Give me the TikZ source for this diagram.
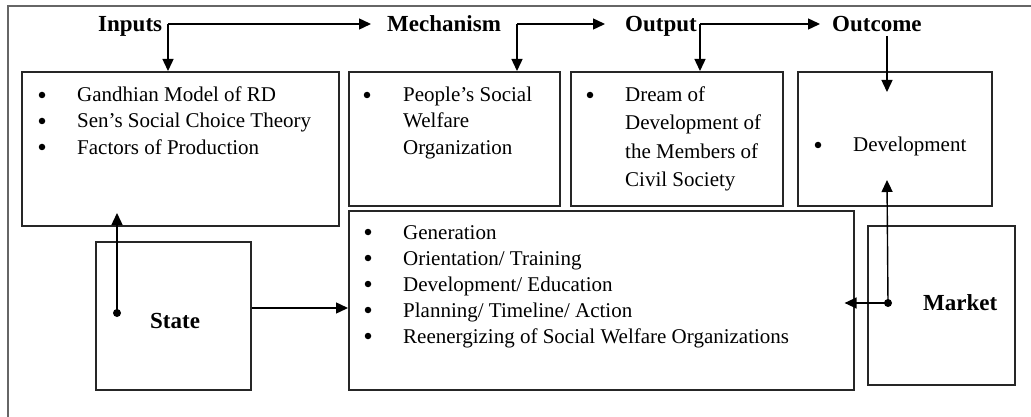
\documentclass[tikz,border=0pt]{standalone}
\usepackage{fontspec}
\setmainfont{Liberation Serif}
\usetikzlibrary{arrows.meta}
\begin{document}
\begin{tikzpicture}[x=1pt,y=-1pt,
  box/.style={draw=black!85, line width=1.6pt, rectangle, inner sep=0pt, anchor=north west},
  arr/.style={line width=1.4pt, -{Triangle[length=12pt,width=11pt]}},
  frame/.style={line width=1.6pt, draw=black!60},
  lbl/.style={font=\fontsize{23}{27}\selectfont\bfseries, inner sep=0pt, anchor=base west},
  txt/.style={font=\fontsize{21}{26}\selectfont, inner sep=0pt, anchor=base west},
  bul/.style={circle, fill, inner sep=0pt, minimum size=6.5pt},
  dot/.style={circle, fill, inner sep=0pt, minimum size=8pt},
]
\useasboundingbox (0,0) rectangle (1031,417);
\fill[white] (0,0) rectangle (1031,417);
% outer frame
\draw[frame] (8,417) -- (8,6) -- (1031,6);

% headers
\node[lbl] (inputs) at (98,32) {Inputs};
\node[lbl] (mech) at (387,32) {Mechanism};
\node[lbl] (output) at (625,32) {Output};
\node[lbl] (outcome) at (832,32) {Outcome};

% boxes
\node[box, minimum width=317pt, minimum height=154pt] (b1) at (21,71) {};
\node[box, minimum width=211pt, minimum height=134pt] (b2) at (348,71) {};
\node[box, minimum width=212pt, minimum height=134pt] (b3) at (570,71) {};
\node[box, minimum width=194pt, minimum height=134pt] (b4) at (797,71) {};
\node[box, minimum width=505pt, minimum height=179pt] (b5) at (348,210) {};
\node[box, minimum width=155pt, minimum height=148pt] (state) at (95,241) {};
\node[box, minimum width=147pt, minimum height=159pt] (market) at (867,225) {};

% box 1 text
\node[bul] (b1a) at (42,95) {};
\node[txt] (b1at) at (77,102) {Gandhian Model of RD};
\node[bul] (b1b) at (42,121) {};
\node[txt] (b1bt) at (77,128) {Sen’s Social Choice Theory};
\node[bul] (b1c) at (42,147) {};
\node[txt] (b1ct) at (77,154) {Factors of Production};

% box 2 text
\node[bul] (b2a) at (367,95) {};
\node[txt] (b2t1) at (403,102) {People’s Social};
\node[txt] (b2t2) at (403,128) {Welfare};
\node[txt] (b2t3) at (403,154) {Organization};

% box 3 text
\node[bul] (b3a) at (590,95) {};
\node[txt] (b3t1) at (625,102) {Dream of};
\node[txt] (b3t2) at (625,130) {Development of};
\node[txt] (b3t3) at (625,158) {the Members of};
\node[txt] (b3t4) at (625,186) {Civil Society};

% box 4 text
\node[bul] (b4a) at (818,145) {};
\node[txt] (b4t) at (853,152) {Development};

% box 5 text
\node[bul] (b5a) at (368,232) {};
\node[txt] (b5at) at (403,239) {Generation};
\node[bul] (b5b) at (368,258) {};
\node[txt] (b5bt) at (403,265) {Orientation/ Training};
\node[bul] (b5c) at (368,284) {};
\node[txt] (b5ct) at (403,291) {Development/ Education};
\node[bul] (b5d) at (368,310) {};
\node[txt] (b5dt) at (403,317) {Planning/ Timeline/ Action};
\node[bul] (b5e) at (368,336) {};
\node[txt] (b5et) at (403,343) {Reenergizing of Social Welfare Organizations};

% State / Market labels
\node[lbl] (statel) at (150,328) {State};
\node[lbl] (marketl) at (923,310) {Market};

% junction coordinates
\coordinate (j1) at (168,24);
\coordinate (j2) at (517,24);
\coordinate (j3) at (700,24);
\coordinate (o1) at (887,36);
\coordinate (o2) at (887,92);
\coordinate (m2) at (887,180);
\coordinate (s2) at (117,213);
\node[dot] (sdot) at (117,313) {};
\node[dot] (mdot) at (888,303) {};

% connectors
\draw[arr] (j1) -- ([xshift=-16pt]mech.west |- j1);
\draw[arr] (j1) -- (j1 |- b1.north);
\draw[arr] (j2) -- ([xshift=-20pt]output.west |- j2);
\draw[arr] (j2) -- (j2 |- b2.north);
\draw[arr] (j3) -- ([xshift=-12pt]outcome.west |- j3);
\draw[arr] (j3) -- (j3 |- b3.north);
\draw[arr] (o1) -- (o2);
\draw[arr] (sdot.center) -- (s2);
\draw[arr] (state.east |- 0,308) -- (b5.west |- 0,308);
\draw[arr] (mdot.center) -- (m2);
\draw[arr] (mdot.center) -- ([xshift=-10pt]b5.east |- mdot);
\end{tikzpicture}
\end{document}
